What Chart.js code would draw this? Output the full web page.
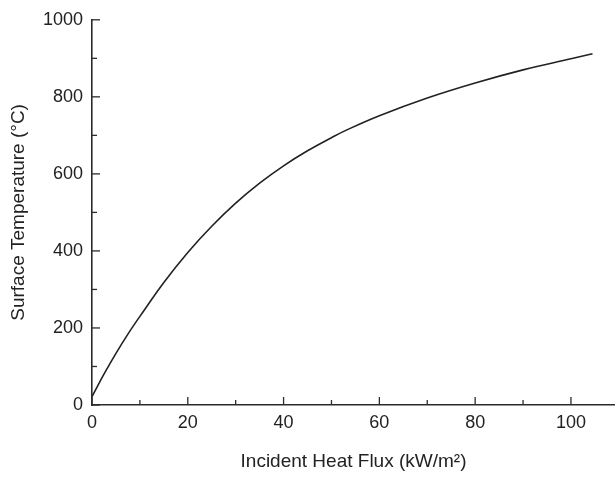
<!DOCTYPE html>
<html>
<head>
<meta charset="utf-8">
<script src="https://cdn.jsdelivr.net/npm/chart.js@4.4.0/dist/chart.umd.min.js"></script>
<style>
  html, body { margin: 0; padding: 0; background: #fff; }
  #wrap { width: 615px; height: 477px; position: relative; }
</style>
</head>
<body>
<div id="wrap"><canvas id="myChart" width="615" height="477"></canvas></div>
<script>
// heat flux (kW/m2) vs surface temperature (C)
const flux = [0, 2.5, 5, 7.5, 10, 15, 20, 25, 30, 35, 40, 45, 50, 53, 60, 70, 80, 90, 100, 104.5]
const temp = [22, 80, 134, 184, 230, 318, 396, 464, 524, 576, 621, 660, 694, 713, 751, 797, 836, 870, 899, 912]

const xMajor = [0, 20, 40, 60, 80, 100]
const xMinor = [10, 30, 50, 70, 90]
const yMajor = [0, 200, 400, 600, 800, 1000]
const yMinor = [100, 300, 500, 700, 900]

const axisColor = '#2b2b2b'
const fontFam = '"Liberation Sans", Arial, sans-serif'

// inward tick marks, like the original plotting program
const innerTicks = {
    id: 'innerTicks',
    afterDraw(chart) {
        const ctx = chart.ctx
        const xs = chart.scales.x
        const ys = chart.scales.y
        const bottom = ys.getPixelForValue(0)
        const left = xs.getPixelForValue(0)
        ctx.save()
        ctx.strokeStyle = axisColor
        ctx.lineWidth = 1.3
        const tick = (x1, y1, x2, y2) => {
            ctx.beginPath()
            ctx.moveTo(x1, y1)
            ctx.lineTo(x2, y2)
            ctx.stroke()
        }
        xMajor.forEach(v => { const p = xs.getPixelForValue(v); tick(p, bottom, p, bottom - 8) })
        xMinor.forEach(v => { const p = xs.getPixelForValue(v); tick(p, bottom, p, bottom - 5) })
        yMajor.forEach(v => { const p = ys.getPixelForValue(v); tick(left, p, left + 8, p) })
        yMinor.forEach(v => { const p = ys.getPixelForValue(v); tick(left, p, left + 5, p) })
        ctx.restore()
    }
}

let ctx = document.getElementById('myChart').getContext('2d')
let myChart = new Chart(ctx, {
    type: 'line',
    data: {
        datasets: [{
            data: flux.map((f, i) => ({ x: f, y: temp[i] })),
            borderColor: '#222',
            borderWidth: 1.6,
            pointRadius: 0,
            fill: false,
            tension: 0.4
        }]
    },
    options: {
        responsive: false,
        animation: false,
        layout: { padding: { top: 16, right: 0, left: 3, bottom: 0 } },
        plugins: {
            legend: { display: false },
            tooltip: { enabled: false }
        },
        scales: {
            x: {
                type: 'linear',
                min: 0,
                max: 109.2,
                afterBuildTicks: s => { s.ticks = xMajor.map(v => ({ value: v })) },
                afterFit: s => { s.height = 72 },
                grid: { display: true, drawOnChartArea: false, drawTicks: false },
                border: { display: true, color: axisColor, width: 1.6 },
                ticks: {
                    color: '#222',
                    padding: 7,
                    font: { family: fontFam, size: 18 },
                    callback: v => String(v)
                },
                title: {
                    display: true,
                    text: 'Incident Heat Flux (kW/m\u00b2)',
                    color: '#222',
                    padding: { top: 10 },
                    font: { family: fontFam, size: 19 }
                }
            },
            y: {
                min: 0,
                max: 1000,
                afterBuildTicks: s => { s.ticks = yMajor.map(v => ({ value: v })) },
                afterFit: s => { s.width = 89 },
                grid: { display: true, drawOnChartArea: false, drawTicks: false },
                border: { display: true, color: axisColor, width: 1.6 },
                ticks: {
                    color: '#222',
                    padding: 9,
                    font: { family: fontFam, size: 18 },
                    callback: v => String(v)
                },
                title: {
                    display: true,
                    text: 'Surface Temperature (\u00b0C)',
                    color: '#222',
                    padding: { bottom: 0 },
                    font: { family: fontFam, size: 19 }
                }
            }
        }
    },
    plugins: [innerTicks]
})
</script>
</body>
</html>
